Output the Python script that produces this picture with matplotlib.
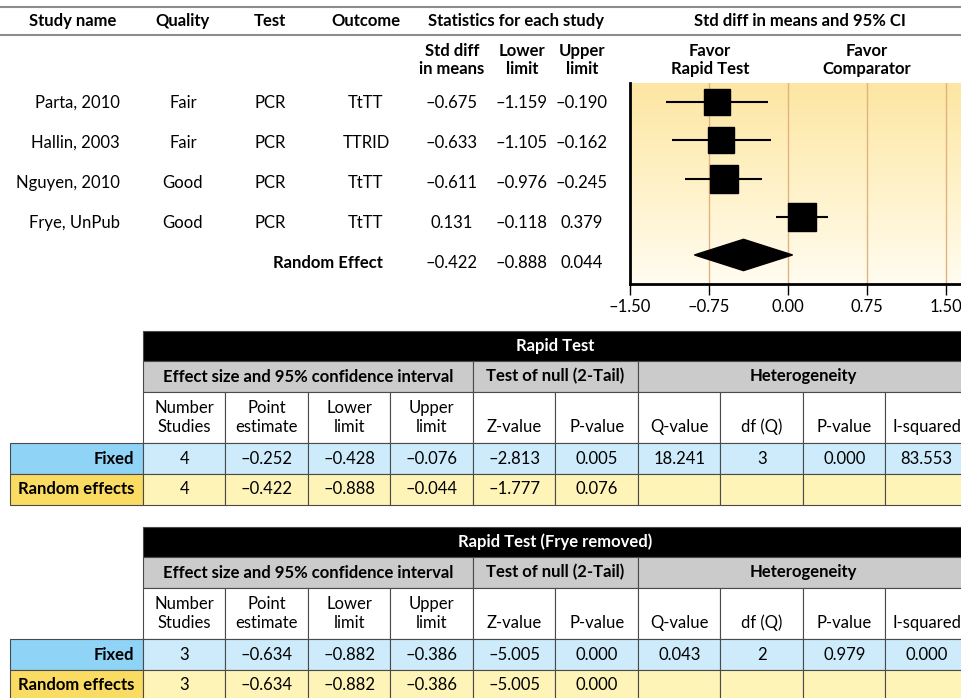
import numpy as np
import matplotlib.pyplot as plt
from matplotlib.patches import Rectangle, Polygon
from matplotlib.colors import LinearSegmentedColormap

plt.rcParams['font.family'] = ['Lato', 'DejaVu Sans']
plt.rcParams['font.size'] = 12

# ---- study level data ----
studies = ['Parta, 2010', 'Hallin, 2003', 'Nguyen, 2010', 'Frye, UnPub']
quality = ['Fair', 'Fair', 'Good', 'Good']
test = ['PCR', 'PCR', 'PCR', 'PCR']
outcome = ['TtTT', 'TTRID', 'TtTT', 'TtTT']
smd = [-0.675, -0.633, -0.611, 0.131]
lower = [-1.159, -1.105, -0.976, -0.118]
upper = [-0.190, -0.162, -0.245, 0.379]
re_smd, re_lower, re_upper = -0.422, -0.888, 0.044
box_pt = [18.5, 18.5, 20.5, 20.5]   # square side in points (study weight)
ticks = [-1.5, -0.75, 0.0, 0.75, 1.5]

# ---- summary tables ----
col_heads = [('Number', 'Studies'), ('Point', 'estimate'), ('Lower', 'limit'),
             ('Upper', 'limit'), ('', 'Z-value'), ('', 'P-value'),
             ('', 'Q-value'), ('', 'df (Q)'), ('', 'P-value'), ('', 'I-squared')]
groups = [('Effect size and 95% confidence interval', 0, 4),
          ('Test of null (2-Tail)', 4, 6), ('Heterogeneity', 6, 10)]
rapid_fixed = [4, -0.252, -0.428, -0.076, -2.813, 0.005, 18.241, 3, 0.000, 83.553]
rapid_random = [4, -0.422, -0.888, -0.044, -1.777, 0.076]
frye_fixed = [3, -0.634, -0.882, -0.386, -5.005, 0.000, 0.043, 2, 0.979, 0.000]
frye_random = [3, -0.634, -0.882, -0.386, -5.005, 0.000]


def fmt(v, nd=3):
    if isinstance(v, int):
        return str(v)
    return f'{v:.{nd}f}'.replace('-', '\u2013')


fig = plt.figure(figsize=(9.62, 6.98), dpi=100)
bg = fig.add_axes([0, 0, 1, 1])
bg.set_xlim(0, 962)
bg.set_ylim(698, 0)
bg.axis('off')

# header rules and titles
bg.hlines([7, 35], 0, 962, color='#8c8c8c', lw=1.5)
for txt, x in [('Study name', 73), ('Quality', 183), ('Test', 270), ('Outcome', 366),
               ('Statistics for each study', 516), ('Std diff in means and 95% CI', 800)]:
    bg.text(x, 21, txt, ha='center', va='center', fontweight='bold')
for txt, x in [('Std diff\nin means', 452), ('Lower\nlimit', 522), ('Upper\nlimit', 582),
               ('Favor\nRapid Test', 710), ('Favor\nComparator', 867)]:
    bg.text(x, 60, txt, ha='center', va='center', fontweight='bold', linespacing=1.15)

# study rows
for i in range(len(studies)):
    y = 103 + 40 * i
    bg.text(120, y, studies[i], ha='right', va='center')
    bg.text(183, y, quality[i], ha='center', va='center')
    bg.text(270, y, test[i], ha='center', va='center')
    bg.text(366, y, outcome[i], ha='center', va='center')
    bg.text(452, y, fmt(smd[i]), ha='center', va='center')
    bg.text(522, y, fmt(lower[i]), ha='center', va='center')
    bg.text(582, y, fmt(upper[i]), ha='center', va='center')
bg.text(383, 263, 'Random Effect', ha='right', va='center', fontweight='bold')
bg.text(452, 263, fmt(re_smd), ha='center', va='center')
bg.text(522, 263, fmt(re_lower), ha='center', va='center')
bg.text(582, 263, fmt(re_upper), ha='center', va='center')

# forest plot panel
ax = fig.add_axes([630 / 962, (698 - 284) / 698, (962 - 630) / 962, (284 - 83) / 698])
xlo, xhi = -1.5, 1.653
ylo, yhi = 4.76, -0.5
ax.set_xlim(xlo, xhi)
ax.set_ylim(ylo, yhi)
shade = LinearSegmentedColormap.from_list('shade', ['#fde6a2', '#fff2c8', '#fffcf0'])
ax.imshow(np.linspace(0, 1, 256).reshape(-1, 1), extent=(xlo, xhi, ylo, yhi),
          aspect='auto', cmap=shade, zorder=0)
for gx in ticks[1:]:
    ax.axvline(gx, color='#e2b27e', lw=1, zorder=1)

rows = np.arange(len(studies))
ax.hlines(rows, lower, upper, color='black', lw=1.5, zorder=3)
for r, x, s in zip(rows, smd, box_pt):
    ax.plot(x, r, 's', ms=s, color='black', zorder=4)
rr = len(studies)
ax.add_patch(Polygon([(re_lower, rr), (re_smd, rr - 0.41), (re_upper, rr), (re_smd, rr + 0.41)],
                     closed=True, color='black', zorder=4))

ax.spines['top'].set_visible(False)
ax.spines['right'].set_visible(False)
ax.spines['left'].set_linewidth(2)
ax.spines['bottom'].set_linewidth(2)
ax.set_yticks([])
ax.set_xticks(ticks)
ax.set_xticklabels([fmt(t, 2) for t in ticks])
ax.tick_params(axis='x', direction='out', length=8, width=1, pad=3, labelsize=12)


def draw_table(top, title, fixed, random):
    edges = [143 + 82.5 * k for k in range(11)]
    line = dict(edgecolor='#4a4a4a', lw=0.8)
    # title bar
    bg.add_patch(Rectangle((143, top), 825, 30, facecolor='black', **line))
    bg.text(555, top + 15, title, color='white', ha='center', va='center', fontweight='bold')
    # group headers
    for name, a, b in groups:
        bg.add_patch(Rectangle((edges[a], top + 30), edges[b] - edges[a], 31,
                               facecolor='#cbcbcb', **line))
        bg.text((edges[a] + edges[b]) / 2, top + 45.5, name, ha='center', va='center',
                fontweight='bold')
    # column headers
    for k, (l1, l2) in enumerate(col_heads):
        bg.add_patch(Rectangle((edges[k], top + 61), 82.5, 51, facecolor='white', **line))
        cx = (edges[k] + edges[k + 1]) / 2
        if l1:
            bg.text(cx, top + 77, l1, ha='center', va='center')
        bg.text(cx, top + 96, l2, ha='center', va='center')
    # value rows
    for y0, label, vals, dark, light in [(top + 112, 'Fixed', fixed, '#8fd3f7', '#cdebfb'),
                                         (top + 143, 'Random effects', random, '#fbdc62', '#fef4b8')]:
        bg.add_patch(Rectangle((10, y0), 133, 31, facecolor=dark, **line))
        bg.text(134, y0 + 15.5, label, ha='right', va='center', fontweight='bold')
        for k in range(10):
            bg.add_patch(Rectangle((edges[k], y0), 82.5, 31, facecolor=light, **line))
            if k < len(vals):
                bg.text((edges[k] + edges[k + 1]) / 2, y0 + 15.5, fmt(vals[k]),
                        ha='center', va='center')


draw_table(331, 'Rapid Test', rapid_fixed, rapid_random)
draw_table(527, 'Rapid Test (Frye removed)', frye_fixed, frye_random)

fig.savefig('out.png', dpi=100)
